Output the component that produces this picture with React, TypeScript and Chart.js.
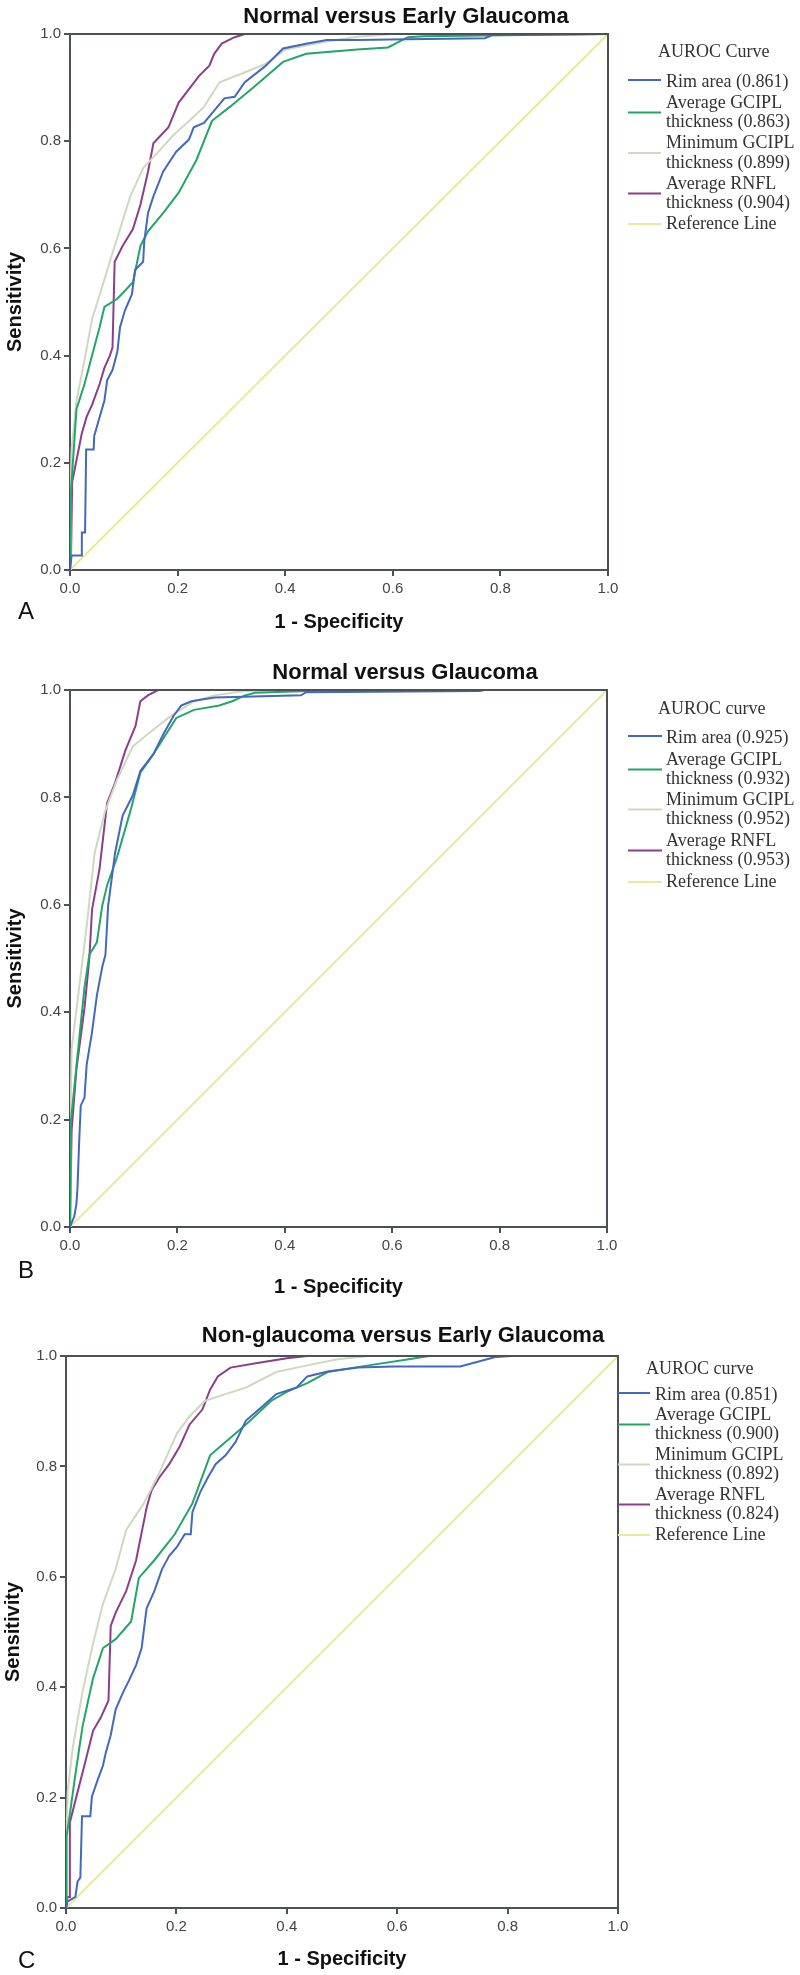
import React, { useEffect, useRef } from "react";
import { Chart, registerables } from "chart.js";
Chart.register(...registerables);

type Pt = [number, number];

// ---------- Panel A: Normal versus Early Glaucoma ----------
const A_RIM: Pt[] = [[0,0],[0.003,0.027],[0.022,0.027],[0.022,0.07],[0.028,0.07],[0.03,0.225],[0.044,0.225],[0.045,0.25],[0.055,0.285],[0.064,0.316],[0.069,0.354],[0.079,0.373],[0.088,0.407],[0.093,0.453],[0.102,0.484],[0.115,0.514],[0.121,0.56],[0.136,0.575],[0.138,0.613],[0.145,0.666],[0.155,0.697],[0.173,0.743],[0.197,0.78],[0.221,0.803],[0.23,0.826],[0.249,0.834],[0.268,0.857],[0.287,0.88],[0.306,0.883],[0.325,0.91],[0.363,0.94],[0.396,0.973],[0.439,0.982],[0.477,0.989],[0.534,0.989],[0.628,0.99],[0.771,0.992],[0.785,0.998],[1,1]];
const A_GCIPL: Pt[] = [[0,0],[0.002,0.15],[0.012,0.3],[0.027,0.347],[0.041,0.4],[0.055,0.453],[0.064,0.491],[0.088,0.506],[0.117,0.537],[0.131,0.605],[0.145,0.632],[0.173,0.666],[0.202,0.704],[0.235,0.765],[0.264,0.838],[0.297,0.864],[0.344,0.903],[0.396,0.948],[0.439,0.963],[0.534,0.971],[0.591,0.975],[0.628,0.994],[0.657,0.996],[1,1]];
const A_MIN: Pt[] = [[0,0],[0.001,0.15],[0.003,0.225],[0.012,0.316],[0.027,0.392],[0.041,0.468],[0.06,0.529],[0.074,0.575],[0.093,0.636],[0.112,0.697],[0.136,0.75],[0.164,0.78],[0.192,0.811],[0.226,0.842],[0.249,0.864],[0.278,0.91],[0.316,0.925],[0.363,0.944],[0.401,0.971],[0.477,0.986],[0.534,0.995],[0.6,1],[1,1]];
const A_RNFL: Pt[] = [[0,0],[0.002,0.03],[0.004,0.164],[0.022,0.255],[0.031,0.286],[0.041,0.308],[0.055,0.347],[0.064,0.377],[0.074,0.4],[0.079,0.415],[0.083,0.575],[0.098,0.605],[0.117,0.636],[0.131,0.682],[0.145,0.743],[0.155,0.796],[0.183,0.826],[0.202,0.872],[0.24,0.922],[0.259,0.941],[0.268,0.963],[0.282,0.982],[0.306,0.994],[0.325,1],[1,1]];
const A_LABELS: string[][] = [["Rim area (0.861)"],["Average GCIPL","thickness (0.863)"],["Minimum GCIPL","thickness (0.899)"],["Average RNFL","thickness (0.904)"],["Reference Line"]];

// ---------- Panel B: Normal versus Glaucoma ----------
const B_RIM: Pt[] = [[0,0],[0.008,0.02],[0.012,0.043],[0.014,0.074],[0.017,0.157],[0.02,0.226],[0.027,0.241],[0.031,0.302],[0.041,0.363],[0.05,0.431],[0.06,0.484],[0.066,0.507],[0.071,0.598],[0.084,0.697],[0.098,0.766],[0.117,0.804],[0.131,0.849],[0.155,0.88],[0.174,0.918],[0.193,0.952],[0.207,0.971],[0.226,0.979],[0.269,0.986],[0.43,0.99],[0.44,0.996],[0.763,0.998],[0.772,1],[1,1]];
const B_GCIPL: Pt[] = [[0,0],[0.002,0.2],[0.012,0.3],[0.027,0.446],[0.036,0.507],[0.05,0.53],[0.06,0.598],[0.069,0.636],[0.088,0.69],[0.112,0.773],[0.131,0.846],[0.155,0.88],[0.179,0.918],[0.198,0.948],[0.231,0.963],[0.278,0.971],[0.302,0.979],[0.326,0.99],[0.345,0.995],[0.5,1],[1,1]];
const B_MIN: Pt[] = [[0,0],[0.001,0.2],[0.003,0.33],[0.017,0.446],[0.031,0.56],[0.046,0.697],[0.065,0.773],[0.088,0.834],[0.117,0.895],[0.145,0.918],[0.183,0.948],[0.231,0.979],[0.269,0.99],[0.326,0.998],[0.4,1],[1,1]];
const B_RNFL: Pt[] = [[0,0],[0.003,0.18],[0.012,0.294],[0.027,0.408],[0.036,0.5],[0.041,0.591],[0.055,0.667],[0.069,0.789],[0.084,0.827],[0.103,0.887],[0.122,0.933],[0.131,0.979],[0.145,0.99],[0.164,1],[1,1]];
const B_LABELS: string[][] = [["Rim area (0.925)"],["Average GCIPL","thickness (0.932)"],["Minimum GCIPL","thickness (0.952)"],["Average RNFL","thickness (0.953)"],["Reference Line"]];

// ---------- Panel C: Non-glaucoma versus Early Glaucoma ----------
const C_RIM: Pt[] = [[0,0],[0.003,0.012],[0.017,0.02],[0.021,0.048],[0.026,0.055],[0.029,0.166],[0.044,0.166],[0.047,0.202],[0.058,0.234],[0.067,0.258],[0.072,0.281],[0.081,0.313],[0.09,0.36],[0.104,0.392],[0.114,0.412],[0.127,0.44],[0.137,0.471],[0.146,0.543],[0.16,0.574],[0.174,0.614],[0.187,0.638],[0.201,0.654],[0.215,0.677],[0.226,0.677],[0.229,0.717],[0.243,0.753],[0.257,0.78],[0.271,0.804],[0.289,0.82],[0.307,0.844],[0.326,0.883],[0.354,0.907],[0.381,0.931],[0.418,0.943],[0.437,0.963],[0.474,0.972],[0.529,0.979],[0.594,0.981],[0.714,0.981],[0.778,0.998],[0.806,1],[1,1]];
const C_GCIPL: Pt[] = [[0,0],[0.001,0.13],[0.007,0.17],[0.017,0.242],[0.03,0.329],[0.049,0.416],[0.067,0.471],[0.09,0.487],[0.118,0.519],[0.132,0.598],[0.16,0.63],[0.197,0.677],[0.229,0.733],[0.261,0.82],[0.289,0.844],[0.326,0.876],[0.372,0.919],[0.4,0.935],[0.437,0.951],[0.474,0.971],[0.548,0.983],[0.621,0.994],[0.658,1],[1,1]];
const C_MIN: Pt[] = [[0,0],[0.001,0.13],[0.003,0.21],[0.012,0.289],[0.03,0.392],[0.049,0.479],[0.067,0.551],[0.09,0.614],[0.109,0.685],[0.141,0.733],[0.169,0.788],[0.201,0.86],[0.224,0.891],[0.252,0.919],[0.289,0.931],[0.326,0.943],[0.381,0.971],[0.437,0.983],[0.492,0.994],[0.548,1],[1,1]];
const C_RNFL: Pt[] = [[0,0],[0.003,0.02],[0.007,0.02],[0.007,0.155],[0.021,0.21],[0.035,0.265],[0.049,0.321],[0.063,0.345],[0.077,0.376],[0.081,0.511],[0.09,0.535],[0.109,0.574],[0.127,0.63],[0.146,0.725],[0.155,0.757],[0.169,0.78],[0.187,0.804],[0.206,0.836],[0.224,0.876],[0.247,0.903],[0.261,0.939],[0.275,0.963],[0.298,0.979],[0.344,0.987],[0.4,0.996],[0.437,1],[1,1]];
const C_LABELS: string[][] = [["Rim area (0.851)"],["Average GCIPL","thickness (0.900)"],["Minimum GCIPL","thickness (0.892)"],["Average RNFL","thickness (0.824)"],["Reference Line"]];

const REF_LINE: Pt[] = [[0,0],[1,1]];
const TICKS: number[] = [0, 0.2, 0.4, 0.6, 0.8, 1.0];

const COLORS = ["#4468bd", "#22a667", "#cfd8c0", "#8d3e8b", "#e6ec9a"];
const FRAME = "#4b5157";
const SANS = "'Liberation Sans', Arial, sans-serif";
const SERIF = "'Liberation Serif', 'Times New Roman', serif";

interface PanelCfg {
  title: string; titleX: number; titleY: number;
  letter: string; letterX: number; letterY: number;
  legendTitle: string; legendTitleX: number; legendTitleY: number;
  legendTextX: number; legendLineX0: number; legendLineX1: number;
  legendRows: number[];
  labels: string[][];
  series: Pt[][];
  top: number; height: number;
  pad: { left: number; top: number; right: number; bottom: number };
  yW: number; xH: number;
}

const PANELS: PanelCfg[] = [
  {
    title: "Normal versus Early Glaucoma", titleX: 406, titleY: 17,
    letter: "A", letterX: 18, letterY: 612,
    legendTitle: "AUROC Curve", legendTitleX: 658, legendTitleY: 52,
    legendTextX: 666, legendLineX0: 628, legendLineX1: 661,
    legendRows: [82, 103, 122, 143, 163, 184, 203, 224],
    labels: A_LABELS, series: [A_RIM, A_GCIPL, A_MIN, A_RNFL, REF_LINE],
    top: 0, height: 650,
    pad: { left: 3, top: 34, right: 192, bottom: 16 }, yW: 67, xH: 64,
  },
  {
    title: "Normal versus Glaucoma", titleX: 405, titleY: 23,
    letter: "B", letterX: 18, letterY: 621,
    legendTitle: "AUROC curve", legendTitleX: 658, legendTitleY: 59,
    legendTextX: 666, legendLineX0: 628, legendLineX1: 662,
    legendRows: [88, 110, 129, 150, 169, 191, 210, 232],
    labels: B_LABELS, series: [B_RIM, B_GCIPL, B_MIN, B_RNFL, REF_LINE],
    top: 650, height: 655,
    pad: { left: 3, top: 40, right: 193, bottom: 6 }, yW: 67, xH: 72,
  },
  {
    title: "Non-glaucoma versus Early Glaucoma", titleX: 403, titleY: 31,
    letter: "C", letterX: 18, letterY: 656,
    legendTitle: "AUROC curve", legendTitleX: 646, legendTitleY: 64,
    legendTextX: 655, legendLineX0: 618, legendLineX1: 650,
    legendRows: [90, 110, 129, 150, 169, 190, 209, 230],
    labels: C_LABELS, series: [C_RIM, C_GCIPL, C_MIN, C_RNFL, REF_LINE],
    top: 1305, height: 670,
    pad: { left: 1, top: 51, right: 182, bottom: 4 }, yW: 65, xH: 63,
  },
];

function makeDecor(cfg: PanelCfg) {
  return {
    id: "decor",
    afterDatasetsDraw(chart: any) {
      const { ctx, chartArea: a } = chart;
      ctx.save();
      ctx.strokeStyle = FRAME;
      ctx.lineWidth = 2;
      ctx.beginPath();
      ctx.moveTo(a.left, a.top);
      ctx.lineTo(a.right, a.top);
      ctx.lineTo(a.right, a.bottom);
      ctx.stroke();
      ctx.restore();
    },
    afterDraw(chart: any) {
      const { ctx } = chart;
      ctx.save();
      // title
      ctx.fillStyle = "#111";
      ctx.font = `bold 22px ${SANS}`;
      ctx.textAlign = "center";
      ctx.textBaseline = "middle";
      ctx.fillText(cfg.title, cfg.titleX, cfg.titleY);
      // panel letter
      ctx.font = `24px ${SANS}`;
      ctx.textAlign = "left";
      ctx.fillText(cfg.letter, cfg.letterX, cfg.letterY);
      // legend
      ctx.fillStyle = "#333";
      ctx.font = `18px ${SERIF}`;
      ctx.fillText(cfg.legendTitle, cfg.legendTitleX, cfg.legendTitleY);
      let r = 0;
      cfg.labels.forEach((lines, i) => {
        const ys = lines.map((_, k) => cfg.legendRows[r + k]);
        const ly = i === 0 ? ys[0] - 2 : ys.reduce((s, v) => s + v, 0) / ys.length;
        ctx.strokeStyle = COLORS[i];
        ctx.lineWidth = 2;
        ctx.beginPath();
        ctx.moveTo(cfg.legendLineX0, ly);
        ctx.lineTo(cfg.legendLineX1, ly);
        ctx.stroke();
        ctx.fillStyle = "#333";
        lines.forEach((t, k) => ctx.fillText(t, cfg.legendTextX, ys[k]));
        r += lines.length;
      });
      ctx.restore();
    },
  };
}

function buildConfig(cfg: PanelCfg): any {
  const names = cfg.labels.map((l) => l.join(" "));
  const tickFont = { family: SANS, size: 15 };
  const titleFont = { family: SANS, size: 20, weight: "bold" as const };
  return {
    type: "line",
    data: {
      datasets: cfg.series.map((pts, i) => ({
        label: names[i],
        data: pts.map(([x, y]) => ({ x, y })),
        borderColor: COLORS[i],
        backgroundColor: COLORS[i],
        borderWidth: 2,
        pointRadius: 0,
        fill: false,
        tension: 0,
      })),
    },
    options: {
      responsive: false,
      animation: false,
      events: [],
      layout: { padding: cfg.pad },
      plugins: {
        legend: { display: false },
        title: { display: false },
        tooltip: { enabled: false },
      },
      scales: {
        x: {
          type: "linear",
          min: 0,
          max: 1,
          afterFit: (s: any) => { s.height = cfg.xH; },
          afterBuildTicks: (s: any) => { s.ticks = TICKS.map((v) => ({ value: v })); },
          ticks: {
            callback: (v: any) => Number(v).toFixed(1),
            font: tickFont, color: "#444", padding: 4, maxRotation: 0, autoSkip: false,
          },
          grid: { drawOnChartArea: false, drawTicks: true, tickLength: 6, color: FRAME, lineWidth: 2 },
          border: { display: true, color: FRAME, width: 2 },
          title: { display: true, text: "1 - Specificity", font: titleFont, color: "#111", padding: 0 },
        },
        y: {
          type: "linear",
          min: 0,
          max: 1,
          afterFit: (s: any) => { s.width = cfg.yW; },
          afterBuildTicks: (s: any) => { s.ticks = TICKS.map((v) => ({ value: v })); },
          ticks: {
            callback: (v: any) => Number(v).toFixed(1),
            font: tickFont, color: "#444", padding: 3, autoSkip: false,
          },
          grid: { drawOnChartArea: false, drawTicks: true, tickLength: 6, color: FRAME, lineWidth: 2 },
          border: { display: true, color: FRAME, width: 2 },
          title: { display: true, text: "Sensitivity", font: titleFont, color: "#111", padding: 0 },
        },
      },
    },
    plugins: [makeDecor(cfg)],
  };
}

function Panel({ cfg }: { cfg: PanelCfg }) {
  const ref = useRef<HTMLCanvasElement>(null);
  useEffect(() => {
    const chart = new Chart(ref.current as HTMLCanvasElement, buildConfig(cfg));
    return () => chart.destroy();
  }, [cfg]);
  return (
    <canvas
      ref={ref}
      width={800}
      height={cfg.height}
      style={{ position: "absolute", left: 0, top: cfg.top, width: 800, height: cfg.height }}
    />
  );
}

export default function App() {
  useEffect(() => {
    document.body.style.margin = "0";
    document.body.style.background = "#fff";
  }, []);
  return (
    <div style={{ position: "relative", width: 800, height: 1975, background: "#fff" }}>
      <style>{"body{margin:0;background:#fff}"}</style>
      {PANELS.map((p) => (
        <Panel key={p.letter} cfg={p} />
      ))}
    </div>
  );
}
